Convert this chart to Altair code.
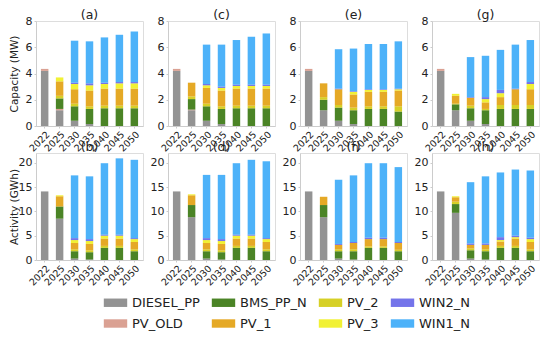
import altair as alt
import pandas as pd

years = ["2022", "2025", "2030", "2035", "2040", "2045", "2050"]
stack_order = ["DIESEL_PP", "PV_OLD", "BMS_PP_N", "PV_2", "PV_1", "PV_3", "WIN2_N", "WIN1_N"]
legend_order = ["DIESEL_PP", "PV_OLD", "BMS_PP_N", "PV_1", "PV_2", "PV_3", "WIN2_N", "WIN1_N"]
legend_colors = ["#808080", "#d49080", "#2b6e00", "#e09a00", "#cfc800", "#eeee10", "#5c5ce6", "#2ea4f8"]

# Capacity (MW)
cap_a = {
    "DIESEL_PP": [4.2, 1.2, 0.4, 0.15, 0, 0, 0],
    "PV_OLD":    [0.15, 0.1, 0, 0, 0, 0, 0],
    "BMS_PP_N":  [0, 0.8, 1.1, 1.15, 1.35, 1.35, 1.35],
    "PV_2":      [0, 0.2, 0.2, 0.2, 0.2, 0.2, 0.2],
    "PV_1":      [0, 1.1, 1.1, 1.2, 1.3, 1.3, 1.3],
    "PV_3":      [0, 0.3, 0.4, 0.4, 0.35, 0.4, 0.4],
    "WIN2_N":    [0, 0, 0.1, 0.15, 0.1, 0.1, 0.1],
    "WIN1_N":    [0, 0, 3.2, 3.2, 3.45, 3.6, 3.85],
}
cap_c = {
    "DIESEL_PP": [4.2, 1.2, 0.4, 0.15, 0, 0, 0],
    "PV_OLD":    [0.15, 0.05, 0, 0, 0, 0, 0],
    "BMS_PP_N":  [0, 0.8, 1.1, 1.15, 1.35, 1.35, 1.35],
    "PV_2":      [0, 0.2, 0.2, 0.2, 0.2, 0.2, 0.2],
    "PV_1":      [0, 1.05, 1.2, 1.2, 1.3, 1.3, 1.3],
    "PV_3":      [0, 0, 0.2, 0.2, 0.2, 0.2, 0.2],
    "WIN2_N":    [0, 0, 0.1, 0.1, 0.1, 0.1, 0.1],
    "WIN1_N":    [0, 0, 3.0, 3.2, 3.4, 3.65, 3.9],
}
cap_e = {
    "DIESEL_PP": [4.2, 1.2, 0.4, 0.15, 0, 0, 0],
    "PV_OLD":    [0.15, 0, 0, 0, 0, 0, 0],
    "BMS_PP_N":  [0, 0.8, 1.0, 1.05, 1.3, 1.3, 1.1],
    "PV_2":      [0, 0.2, 0.2, 0.2, 0.2, 0.2, 0.4],
    "PV_1":      [0, 1.05, 1.2, 1.0, 1.1, 1.1, 1.2],
    "PV_3":      [0, 0, 0, 0.2, 0.15, 0.15, 0.1],
    "WIN2_N":    [0, 0, 0.05, 0.05, 0.05, 0.05, 0.05],
    "WIN1_N":    [0, 0, 3.0, 3.25, 3.45, 3.45, 3.6],
}
cap_g = {
    "DIESEL_PP": [4.2, 1.2, 0.4, 0.15, 0, 0, 0],
    "PV_OLD":    [0.15, 0, 0, 0, 0, 0, 0],
    "BMS_PP_N":  [0, 0.45, 0.95, 1.05, 1.3, 1.3, 1.3],
    "PV_2":      [0, 0.05, 0.2, 0.1, 0.3, 0.3, 0.3],
    "PV_1":      [0, 0.6, 0.6, 0.5, 0.6, 1.2, 1.2],
    "PV_3":      [0, 0.15, 0, 0.25, 0.3, 0, 0.4],
    "WIN2_N":    [0, 0, 0.05, 0.15, 0.25, 0.05, 0.15],
    "WIN1_N":    [0, 0, 3.05, 3.15, 3.05, 3.35, 3.2],
}
# Activity (GWh)
act_b = {
    "DIESEL_PP": [14.1, 8.5, 0.3, 0.1, 0, 0, 0],
    "PV_OLD":    [0, 0, 0, 0, 0, 0, 0],
    "BMS_PP_N":  [0, 2.5, 1.5, 1.5, 2.5, 2.5, 1.8],
    "PV_2":      [0, 0, 0.4, 0.4, 0.4, 0.4, 0.4],
    "PV_1":      [0, 2.1, 1.3, 1.3, 1.5, 1.5, 1.5],
    "PV_3":      [0, 0.2, 0.6, 0.6, 0.6, 0.6, 0.6],
    "WIN2_N":    [0, 0, 0.4, 0.4, 0.2, 0.2, 0.2],
    "WIN1_N":    [0, 0, 12.9, 12.9, 14.7, 15.7, 16.1],
}
act_d = {
    "DIESEL_PP": [14.1, 8.8, 0.3, 0.1, 0, 0, 0],
    "PV_OLD":    [0, 0, 0, 0, 0, 0, 0],
    "BMS_PP_N":  [0, 2.5, 1.5, 1.5, 2.5, 2.5, 1.8],
    "PV_2":      [0, 0, 0.4, 0.4, 0.4, 0.4, 0.4],
    "PV_1":      [0, 2.0, 1.3, 1.3, 1.5, 1.5, 1.5],
    "PV_3":      [0, 0.2, 0.6, 0.6, 0.6, 0.6, 0.6],
    "WIN2_N":    [0, 0, 0.4, 0.4, 0.2, 0.2, 0.2],
    "WIN1_N":    [0, 0, 13.0, 13.2, 14.7, 15.4, 15.8],
}
act_f = {
    "DIESEL_PP": [14.1, 8.8, 0.3, 0.1, 0, 0, 0],
    "PV_OLD":    [0, 0, 0, 0, 0, 0, 0],
    "BMS_PP_N":  [0, 2.5, 1.5, 1.7, 2.5, 2.5, 1.8],
    "PV_2":      [0, 0, 0.4, 0.4, 0.3, 0.3, 0.3],
    "PV_1":      [0, 1.7, 0.9, 1.3, 1.5, 1.5, 1.4],
    "PV_3":      [0, 0, 0, 0, 0, 0, 0],
    "WIN2_N":    [0, 0, 0.2, 0.2, 0.3, 0.3, 0.2],
    "WIN1_N":    [0, 0, 13.2, 13.7, 15.3, 15.3, 15.4],
}
act_h = {
    "DIESEL_PP": [14.1, 9.7, 0.3, 0.1, 0, 0, 0],
    "PV_OLD":    [0, 0, 0, 0, 0, 0, 0],
    "BMS_PP_N":  [0, 1.8, 1.7, 1.7, 2.5, 2.5, 1.8],
    "PV_2":      [0, 0.5, 0.4, 0.4, 0.4, 0.4, 0.4],
    "PV_1":      [0, 0.9, 0.7, 0.9, 0.9, 1.5, 1.5],
    "PV_3":      [0, 0.2, 0, 0, 0.3, 0.3, 0.6],
    "WIN2_N":    [0, 0, 0.3, 0.3, 0.6, 0.3, 0.3],
    "WIN1_N":    [0, 0, 12.6, 13.8, 13.3, 13.6, 13.8],
}

FONT = "DejaVu Sans"
W = 107


def to_df(d):
    rows = []
    for t in stack_order:
        for y, v in zip(years, d[t]):
            rows.append({"year": y, "tech": t, "value": v, "ord": stack_order.index(t)})
    return pd.DataFrame(rows)


def panel(d, label, ymax, ticks, ytitle, h, show_legend=False):
    color = alt.Color(
        "tech:N",
        scale=alt.Scale(domain=legend_order, range=legend_colors),
        legend=alt.Legend(
            title=None, orient="none", legendX=70, legendY=272, columns=4,
            symbolType="M-1.25,-0.45H1.25V0.45H-1.25Z", symbolSize=350,
            symbolStrokeWidth=0, symbolOpacity=0.85,
            labelFont=FONT, labelFontSize=13, labelColor="#222",
            columnPadding=11, rowPadding=4, labelOffset=7,
        ) if show_legend else None,
    )
    yaxis = alt.Axis(
        values=ticks, grid=False, title=ytitle if ytitle else None,
        titleFont=FONT, titleFontSize=10.5, titleFontWeight="normal", titleColor="#222",
        labelFont=FONT, labelFontSize=11, labelColor="#222",
        domainColor="#cccccc", tickColor="#cccccc", tickSize=2, labelPadding=2,
        titlePadding=1, minExtent=16, maxExtent=16,
    )
    xaxis = alt.Axis(
        title=None, labelAngle=-45, labelAlign="right", labelBaseline="top",
        labelFont=FONT, labelFontSize=9.5, labelColor="#222",
        domainColor="#cccccc", tickColor="#cccccc", tickSize=2, labelPadding=1,
    )
    bars = alt.Chart(to_df(d)).mark_bar(opacity=0.85).encode(
        x=alt.X("year:N", sort=years, axis=xaxis,
                scale=alt.Scale(paddingInner=0.5, paddingOuter=0.33)),
        y=alt.Y("sum(value):Q", axis=yaxis, scale=alt.Scale(domain=[0, ymax], nice=False)),
        color=color,
        order=alt.Order("ord:Q", sort="ascending"),
    )
    title = alt.Chart(pd.DataFrame({"label": [label]})).mark_text(
        font=FONT, fontSize=12.5, color="#222", baseline="bottom", align="center", dy=1,
    ).encode(x=alt.value(W / 2), y=alt.value(0), text="label:N")
    return alt.layer(bars, title).properties(width=W, height=h)


cap_ticks = [0, 2, 4, 6, 8]
act_ticks = [0, 5, 10, 15, 20]
panels = [
    panel(cap_a, "(a)", 8, cap_ticks, "Capacity (MW)", 105, show_legend=True),
    panel(cap_c, "(c)", 8, cap_ticks, None, 105),
    panel(cap_e, "(e)", 8, cap_ticks, None, 105),
    panel(cap_g, "(g)", 8, cap_ticks, None, 105),
    panel(act_b, "(b)", 22, act_ticks, "Activity (GWh)", 107),
    panel(act_d, "(d)", 22, act_ticks, None, 107),
    panel(act_f, "(f)", 22, act_ticks, None, 107),
    panel(act_h, "(h)", 22, act_ticks, None, 107),
]
chart = alt.concat(*panels, columns=4, spacing={"row": 27, "column": 25}, bounds="flush").resolve_scale(
    color="shared"
).properties(
    padding={"left": 0, "top": 0, "right": 0, "bottom": 0}
).configure_view(stroke="#cccccc", strokeWidth=1).configure(background="white")

chart.save("out.html", embed_options={"renderer": "svg", "actions": False})
